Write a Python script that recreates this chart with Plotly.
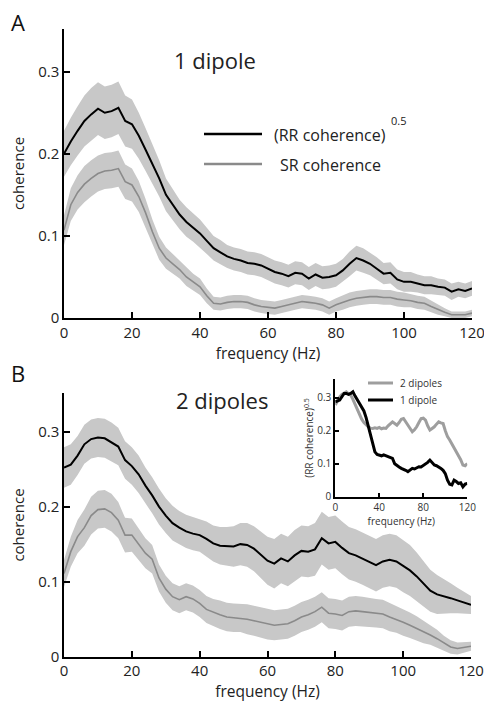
import plotly.graph_objects as go

freq = list(range(0, 121, 2))

# Panel A (1 dipole)
a_rr = [0.200,0.215,0.228,0.240,0.248,0.255,0.250,0.252,0.256,0.240,0.236,0.222,0.205,0.188,0.170,0.150,
        0.138,0.126,0.117,0.110,0.103,0.094,0.085,0.080,0.075,0.072,0.070,0.067,0.066,0.064,0.060,0.056,
        0.054,0.051,0.055,0.054,0.048,0.053,0.049,0.050,0.052,0.058,0.066,0.073,0.070,0.066,0.060,0.054,
        0.055,0.047,0.044,0.044,0.042,0.040,0.040,0.038,0.037,0.032,0.035,0.033,0.036]
a_rr_sem = [0.028,0.029,0.030,0.031,0.032,0.032,0.032,0.032,0.032,0.031,0.030,0.028,0.026,0.024,0.022,0.020,
            0.019,0.018,0.018,0.017,0.017,0.016,0.015,0.015,0.014,0.014,0.014,0.014,0.014,0.014,0.014,0.014,
            0.014,0.014,0.014,0.014,0.014,0.014,0.014,0.014,0.014,0.014,0.015,0.015,0.015,0.014,0.014,0.013,
            0.013,0.012,0.012,0.012,0.011,0.011,0.011,0.010,0.010,0.010,0.009,0.009,0.009]
a_sr = [0.107,0.138,0.153,0.163,0.170,0.176,0.179,0.180,0.182,0.166,0.162,0.148,0.128,0.105,0.085,0.073,
        0.066,0.059,0.050,0.044,0.038,0.027,0.018,0.017,0.019,0.020,0.020,0.019,0.016,0.014,0.013,0.012,
        0.014,0.016,0.018,0.020,0.019,0.018,0.016,0.012,0.016,0.019,0.022,0.024,0.025,0.026,0.026,0.025,
        0.025,0.023,0.022,0.021,0.019,0.018,0.014,0.010,0.007,0.004,0.004,0.004,0.006]
a_sr_sem = [0.018,0.020,0.021,0.022,0.022,0.022,0.022,0.022,0.022,0.021,0.020,0.019,0.017,0.015,0.014,0.013,
            0.012,0.011,0.011,0.010,0.010,0.009,0.008,0.008,0.008,0.008,0.008,0.008,0.008,0.008,0.008,0.008,
            0.008,0.008,0.008,0.008,0.008,0.008,0.008,0.008,0.008,0.009,0.009,0.009,0.009,0.009,0.009,0.009,
            0.009,0.009,0.009,0.008,0.008,0.008,0.007,0.006,0.005,0.004,0.004,0.004,0.004]

# Panel B (2 dipoles)
b_rr = [0.252,0.256,0.268,0.283,0.290,0.292,0.291,0.286,0.280,0.262,0.254,0.243,0.228,0.215,0.200,0.188,
        0.178,0.172,0.167,0.164,0.162,0.157,0.151,0.148,0.147,0.147,0.150,0.149,0.144,0.136,0.128,0.124,
        0.131,0.127,0.135,0.141,0.140,0.143,0.158,0.151,0.153,0.145,0.138,0.135,0.131,0.127,0.122,0.127,
        0.129,0.127,0.121,0.115,0.107,0.097,0.088,0.083,0.081,0.078,0.075,0.072,0.069]
b_rr_sem = [0.027,0.027,0.026,0.026,0.026,0.026,0.026,0.026,0.025,0.025,0.025,0.025,0.024,0.024,0.024,0.023,
            0.023,0.022,0.022,0.022,0.022,0.023,0.024,0.025,0.026,0.027,0.028,0.029,0.030,0.031,0.032,0.033,
            0.033,0.033,0.034,0.034,0.034,0.035,0.035,0.035,0.035,0.035,0.035,0.035,0.035,0.035,0.035,0.035,
            0.035,0.035,0.035,0.034,0.032,0.030,0.028,0.026,0.023,0.020,0.017,0.014,0.012]
b_sr = [0.111,0.140,0.160,0.172,0.188,0.196,0.197,0.192,0.182,0.162,0.162,0.150,0.138,0.130,0.105,0.090,
        0.080,0.076,0.080,0.077,0.071,0.063,0.059,0.056,0.053,0.052,0.052,0.050,0.048,0.046,0.043,0.042,
        0.043,0.044,0.048,0.053,0.056,0.060,0.066,0.058,0.057,0.055,0.060,0.061,0.060,0.059,0.058,0.057,
        0.053,0.050,0.046,0.042,0.038,0.033,0.029,0.024,0.018,0.013,0.011,0.013,0.014]
b_sr_sem = [0.018,0.020,0.022,0.024,0.025,0.025,0.025,0.025,0.024,0.023,0.022,0.021,0.020,0.019,0.018,0.018,
            0.018,0.018,0.018,0.018,0.018,0.018,0.018,0.019,0.019,0.019,0.019,0.020,0.020,0.020,0.020,0.020,
            0.020,0.020,0.020,0.020,0.020,0.020,0.020,0.020,0.020,0.020,0.020,0.020,0.020,0.019,0.019,0.019,
            0.019,0.018,0.018,0.017,0.016,0.015,0.013,0.012,0.010,0.009,0.008,0.007,0.006]

# Inset: (RR coherence)^0.5
inset_2dip = [0.278,0.290,0.303,0.310,0.315,0.318,0.312,0.308,0.295,0.280,0.265,0.248,0.235,0.225,0.217,0.212,
              0.208,0.207,0.209,0.207,0.210,0.206,0.208,0.207,0.215,0.222,0.227,0.222,0.217,0.225,0.235,0.237,
              0.227,0.217,0.205,0.197,0.203,0.212,0.225,0.237,0.238,0.232,0.215,0.202,0.207,0.212,0.220,0.227,
              0.224,0.222,0.200,0.182,0.172,0.160,0.152,0.140,0.125,0.112,0.096,0.094,0.100]
inset_1dip = [0.288,0.290,0.293,0.303,0.313,0.313,0.310,0.313,0.318,0.305,0.293,0.285,0.272,0.260,0.240,0.215,
              0.190,0.160,0.136,0.128,0.126,0.124,0.127,0.124,0.120,0.118,0.116,0.100,0.094,0.090,0.086,0.084,
              0.080,0.076,0.082,0.086,0.084,0.088,0.091,0.090,0.094,0.098,0.104,0.111,0.104,0.096,0.094,0.091,
              0.086,0.080,0.070,0.050,0.038,0.036,0.050,0.046,0.040,0.042,0.030,0.038,0.040]

main_ticks_x = [0, 20, 40, 60, 80, 100, 120]
main_ticks_y = [0, 0.1, 0.2, 0.3]
main_ticklabels_y = ["0", "0.1", "0.2", "0.3"]
inset_ticks_x = [0, 40, 80, 120]

BAND = "#c8c8c8"
GRAY = "#8a8a8a"
FONT = "Open Sans"
# page body has an 8px margin; figure starts at (8, 8) in the window
OFF = 8
W, H = 492 - OFF, 714 - OFF

fig = go.Figure()


def band(x, m, s, xa, ya):
    up = [a + b for a, b in zip(m, s)]
    lo = [a - b for a, b in zip(m, s)]
    fig.add_trace(go.Scatter(x=x + x[::-1], y=up + lo[::-1], fill="toself", fillcolor=BAND,
                             line=dict(width=0), mode="lines", hoverinfo="skip", showlegend=False,
                             xaxis=xa, yaxis=ya))


def line(x, m, color, w, xa, ya):
    fig.add_trace(go.Scatter(x=x, y=m, mode="lines", line=dict(color=color, width=w),
                             showlegend=False, xaxis=xa, yaxis=ya))


band(freq, a_rr, a_rr_sem, "x", "y")
band(freq, a_sr, a_sr_sem, "x", "y")
line(freq, a_rr, "black", 2, "x", "y")
line(freq, a_sr, GRAY, 1.6, "x", "y")

band(freq, b_rr, b_rr_sem, "x2", "y2")
band(freq, b_sr, b_sr_sem, "x2", "y2")
line(freq, b_rr, "black", 2, "x2", "y2")
line(freq, b_sr, GRAY, 1.6, "x2", "y2")

line(freq, inset_2dip, "#9e9e9e", 3, "x3", "y3")
line(freq, inset_1dip, "black", 3, "x3", "y3")


def px(x):
    return (x - OFF) / W


def py(y):
    return 1 - (y - OFF) / H


axcommon = dict(showline=True, linecolor="black", linewidth=1.5, ticks="inside", tickcolor="black",
                showgrid=False, zeroline=False, automargin=False, ticklabeloverflow="allow",
                tickfont=dict(family=FONT, size=15, color="#222"))
insetcommon = dict(showline=True, linecolor="black", linewidth=2, ticks="inside", ticklen=4, tickwidth=1.5,
                   tickcolor="black", showgrid=False, zeroline=False, automargin=False,
                   ticklabeloverflow="allow",
                   tickfont=dict(family=FONT, size=10, color="#333"))

fig.update_layout(
    template="none",
    width=W, height=H, margin=dict(l=0, r=0, t=0, b=0, pad=0), autosize=False,
    paper_bgcolor="white", plot_bgcolor="rgba(0,0,0,0)",
    font=dict(family=FONT, color="#222"),
    xaxis=dict(domain=[px(64), px(472)], range=[0, 120], anchor="y", tickvals=main_ticks_x, ticklen=6,
               tickwidth=1.5, title=dict(text="frequency (Hz)", font=dict(size=15.5), standoff=4), **axcommon),
    yaxis=dict(domain=[py(318), py(29)], range=[0, 0.352], anchor="x", tickvals=main_ticks_y,
               ticktext=main_ticklabels_y, ticklen=6, tickwidth=1.5,
               title=dict(text="coherence", font=dict(size=15), standoff=14), **axcommon),
    xaxis2=dict(domain=[px(64), px(471)], range=[0, 120], anchor="y2", tickvals=main_ticks_x, ticklen=6,
                tickwidth=1.5, title=dict(text="frequency (Hz)", font=dict(size=15.5), standoff=4), **axcommon),
    yaxis2=dict(domain=[py(656.7), py(393.3)], range=[0, 0.351], anchor="x2", tickvals=main_ticks_y,
                ticktext=main_ticklabels_y, ticklen=6, tickwidth=1.5,
                title=dict(text="coherence", font=dict(size=15), standoff=14), **axcommon),
    xaxis3=dict(domain=[px(335.3), px(467.3)], range=[0, 120], anchor="y3", tickvals=inset_ticks_x,
                title=dict(text="frequency (Hz)", font=dict(size=10, color="#333"), standoff=0), **insetcommon),
    yaxis3=dict(domain=[py(496.7), py(379.3)], range=[0, 0.356], anchor="x3", tickvals=main_ticks_y,
                ticktext=main_ticklabels_y,
                title=dict(text="(RR coherence)<sup>0.5</sup>", font=dict(size=10, color="#333"), standoff=2),
                **insetcommon),
)

ann = []
ann.append(dict(text="A", x=px(9), y=py(22), xanchor="left", yanchor="middle", font=dict(size=22, color="#111")))
ann.append(dict(text="B", x=px(9), y=py(373), xanchor="left", yanchor="middle", font=dict(size=22, color="#111")))
ann.append(dict(text="1 dipole", x=px(172), y=py(60), xanchor="left", yanchor="middle", font=dict(size=22, color="#222")))
ann.append(dict(text="2 dipoles", x=px(174), y=py(400), xanchor="left", yanchor="middle", font=dict(size=22, color="#222")))
ann.append(dict(text="(RR coherence)", x=px(272), y=py(135), xanchor="left", yanchor="middle", font=dict(size=16, color="#222")))
ann.append(dict(text="0.5", x=px(389), y=py(120), xanchor="left", yanchor="middle", font=dict(size=11, color="#222")))
ann.append(dict(text="SR coherence", x=px(278), y=py(165), xanchor="left", yanchor="middle", font=dict(size=16, color="#222")))
ann.append(dict(text="2 dipoles", x=px(398), y=py(383), xanchor="left", yanchor="middle", font=dict(size=10, color="#333")))
ann.append(dict(text="1 dipole", x=px(398), y=py(400), xanchor="left", yanchor="middle", font=dict(size=10, color="#333")))
for a in ann:
    a.update(xref="paper", yref="paper", showarrow=False)
fig.update_layout(annotations=ann)

shapes = [
    dict(type="line", x0=px(204), x1=px(262), y0=py(134), y1=py(134), line=dict(color="black", width=2.5)),
    dict(type="line", x0=px(204), x1=px(262), y0=py(164), y1=py(164), line=dict(color=GRAY, width=2.5)),
    dict(type="line", x0=px(368), x1=px(393), y0=py(383), y1=py(383), line=dict(color="#9e9e9e", width=3)),
    dict(type="line", x0=px(368), x1=px(393), y0=py(400), y1=py(400), line=dict(color="black", width=3)),
]
for s in shapes:
    s.update(xref="paper", yref="paper")
fig.update_layout(shapes=shapes)

fig.write_html("out.html")
